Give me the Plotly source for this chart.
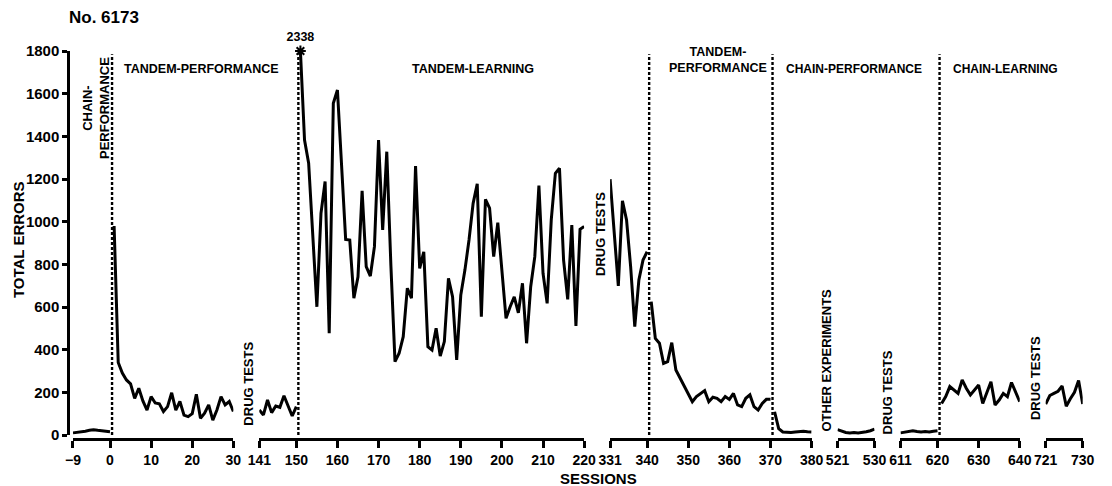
import plotly.graph_objects as go

# ---------------- data ----------------
chain_base_sessions = list(range(-9, 1))
chain_base_errors = [10, 12, 15, 18, 22, 25, 22, 20, 18, 15]

tandem_perf_sessions = list(range(1, 31))
tandem_perf_errors = [980, 340, 290, 258, 240, 172, 219, 160, 117, 180,
                      150, 146, 110, 133, 198, 117, 157, 93, 86, 100,
                      191, 78, 102, 141, 70, 117, 180, 141, 157, 110]

drug1_sessions = list(range(141, 151))
drug1_errors = [117, 94, 164, 105, 136, 130, 184, 133, 89, 133]

tandem_learn_sessions = list(range(151, 221))
tandem_learn_errors = [2338, 1383, 1274, 950, 601, 1039, 1188, 477, 1555, 1617,
                       1252, 917, 914, 641, 742, 1145, 789, 745, 883, 1383,
                       961, 1328, 795, 344, 383, 461, 688, 641, 1261, 781,
                       859, 414, 398, 500, 370, 438, 734, 648, 352, 656,
                       773, 914, 1086, 1177, 555, 1105, 1063, 836, 995, 773,
                       547, 601, 648, 573, 711, 430, 695, 836, 1169, 758,
                       617, 1008, 1227, 1250, 820, 636, 984, 511, 964, 977]

drug2_sessions = list(range(331, 341))
drug2_errors = [1199, 950, 699, 1098, 1008, 788, 508, 727, 820, 859]

tandem_perf2_sessions = list(range(341, 371))
tandem_perf2_errors = [625, 453, 430, 336, 344, 433, 305, 266, 227, 188,
                       156, 180, 195, 208, 156, 177, 172, 156, 180, 167,
                       195, 141, 133, 172, 188, 133, 117, 148, 167, 167]

chain_perf2_sessions = list(range(371, 381))
chain_perf2_errors = [109, 30, 14, 12, 12, 14, 16, 18, 15, 14]

chain_perf3_sessions = list(range(521, 531))
chain_perf3_errors = [25, 18, 12, 10, 12, 10, 12, 15, 20, 28]

chain_perf4_sessions = list(range(611, 621))
chain_perf4_errors = [10, 14, 18, 20, 16, 14, 16, 14, 18, 20]

chain_learn_sessions = list(range(621, 641))
chain_learn_errors = [148, 180, 227, 211, 195, 258, 219, 188, 211, 234,
                      148, 195, 250, 141, 164, 195, 180, 246, 200, 156]

drug4_sessions = list(range(721, 731))
drug4_errors = [145, 185, 195, 205, 230, 135, 170, 200, 255, 145]

segment_ranges = [(-9, 30), (141, 220), (331, 380), (521, 530), (611, 640), (721, 730)]
segment_ticks = [[-9, 0, 10, 20, 30],
                 [141, 150, 160, 170, 180, 190, 200, 210, 220],
                 [331, 340, 350, 360, 370, 380],
                 [521, 530],
                 [611, 620, 630, 640],
                 [721, 730]]
phase_boundaries = [0.5, 150.5, 340.5, 370.5, 620.5]
y_ticks = [0, 200, 400, 600, 800, 1000, 1200, 1400, 1600, 1800]
y_max = 1800

pieces = [
    (chain_base_sessions, chain_base_errors),
    (tandem_perf_sessions, tandem_perf_errors),
    (drug1_sessions, drug1_errors),
    (tandem_learn_sessions, tandem_learn_errors),
    (drug2_sessions, drug2_errors),
    (tandem_perf2_sessions, tandem_perf2_errors),
    (chain_perf2_sessions, chain_perf2_errors),
    (chain_perf3_sessions, chain_perf3_errors),
    (chain_perf4_sessions, chain_perf4_errors),
    (chain_learn_sessions, chain_learn_errors),
    (drug4_sessions, drug4_errors),
]

# ---------------- layout geometry ----------------
W, H = 1112, 486
ML, MR, MT, MB = 68, 22, 51, 47
plot_w = W - ML - MR
plot_h = H - MT - MB
px_per_session = 4.12
gap_px = 26
start_px = 5

FONT = "Liberation Sans"


def seg_index(s):
    for i, (lo, hi) in enumerate(segment_ranges):
        if lo - 1 <= s <= hi + 1:
            return i
    return 0


def xname(i):
    return "x" if i == 0 else f"x{i + 1}"


def px_x(px):
    return (px - ML) / plot_w


def px_y(py):
    return (H - MB - py) / plot_h


fig = go.Figure()

for sess, errs in pieces:
    i = seg_index(sess[0])
    fig.add_trace(go.Scatter(
        x=sess, y=[min(e, y_max) for e in errs], mode="lines",
        xaxis=xname(i), yaxis="y",
        line=dict(color="black", width=3), showlegend=False, hoverinfo="skip"))

# off-scale marker for the first tandem-learning session
peak_i = seg_index(tandem_learn_sessions[0])
fig.add_trace(go.Scatter(
    x=[tandem_learn_sessions[0]], y=[min(tandem_learn_errors[0], y_max)],
    mode="markers+text", xaxis=xname(peak_i), yaxis="y",
    marker=dict(symbol="asterisk-open", size=9, color="black", line=dict(color="black", width=2)),
    text=[f"<b>{tandem_learn_errors[0]}</b>"], textposition="top center",
    textfont=dict(family=FONT, size=12.5, color="black"),
    cliponaxis=False, showlegend=False, hoverinfo="skip"))

layout = dict(
    width=W, height=H,
    margin=dict(l=ML, r=MR, t=MT, b=MB),
    paper_bgcolor="white", plot_bgcolor="white",
    showlegend=False,
    yaxis=dict(
        range=[0, y_max], domain=[4 / plot_h, 1], anchor="free", position=0,
        tickvals=y_ticks, showline=True, linecolor="black", linewidth=2.5,
        ticks="outside", ticklen=5, tickwidth=2.5, tickcolor="black",
        tickfont=dict(family=FONT, size=15, color="black", weight="bold"),
        showgrid=False, zeroline=False),
)

cur = start_px
for i, (lo, hi) in enumerate(segment_ranges):
    width = (hi - lo) * px_per_session
    d0, d1 = cur / plot_w, (cur + width) / plot_w
    cur += width + gap_px
    key = "xaxis" if i == 0 else f"xaxis{i + 1}"
    layout[key] = dict(
        range=[lo, hi], domain=[d0, d1], anchor="free", position=0,
        tickvals=segment_ticks[i], showline=True, linecolor="black", linewidth=2.5,
        ticks="outside", ticklen=7, tickwidth=2.5, tickcolor="black",
        tickfont=dict(family=FONT, size=14, color="black", weight="bold"),
        showgrid=False, zeroline=False)

fig.update_layout(**layout)

# phase boundary dashed lines
for b in phase_boundaries:
    i = seg_index(b)
    fig.add_shape(type="line", xref=xname(i), yref="y", x0=b, x1=b, y0=0, y1=1785,
                  line=dict(color="black", width=2.4, dash="3px,2px"))


def ann(text, x, y, xref, yref="y", angle=0, size=12.5, xanchor="center", yanchor="middle"):
    fig.add_annotation(text=text, x=x, y=y, xref=xref, yref=yref, showarrow=False,
                       textangle=angle, xanchor=xanchor, yanchor=yanchor,
                       font=dict(family=FONT, size=size, color="black", weight="bold"))


# phase labels
ann("CHAIN-<br>PERFORMANCE", -3.4, 1533, "x", angle=-90, size=13)
ann("TANDEM-PERFORMANCE", 3.0, 1716, "x", xanchor="left", size=12.5)
ann("TANDEM-LEARNING", 192.9, 1716, "x2", size=12.5)
ann("TANDEM-<br>PERFORMANCE", 357.3, 1756, "x3", size=12.5)
ann("CHAIN-PERFORMANCE", 373.3, 1716, "x3", xanchor="left", size=12)
ann("CHAIN-LEARNING", 623.3, 1716, "x5", xanchor="left", size=12)

# interval labels (placed in the gaps between axis segments)
ann("DRUG TESTS", px_x(248), px_y(384), "paper", yref="paper", angle=-90, size=13)
ann("DRUG TESTS", px_x(601), px_y(234), "paper", yref="paper", angle=-90, size=13)
ann("OTHER EXPERIMENTS", px_x(827), px_y(360), "paper", yref="paper", angle=-90, size=13)
ann("DRUG TESTS", px_x(889), px_y(392), "paper", yref="paper", angle=-90, size=13)
ann("DRUG TESTS", px_x(1037), px_y(378), "paper", yref="paper", angle=-90, size=13)

# axis titles and figure title
ann("TOTAL ERRORS", px_x(18), px_y(240), "paper", yref="paper", angle=-90, size=15)
ann("SESSIONS", px_x(600), px_y(478), "paper", yref="paper", size=15)
ann("No. 6173", px_x(67), px_y(17), "paper", yref="paper", xanchor="left", size=17)

fig.write_html("out.html")
